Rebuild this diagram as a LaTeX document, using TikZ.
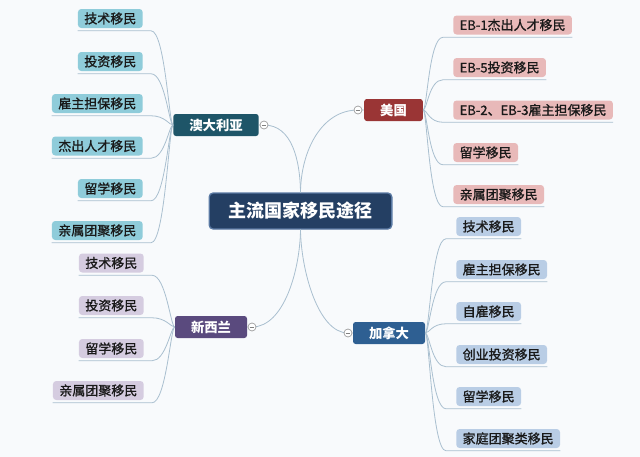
\documentclass[tikz,border=0pt]{standalone}
\usepackage{fontspec}
\setmainfont{Noto Sans CJK SC}
\newfontfamily\subfont{Noto Sans CJK SC}[FakeBold=1.2]
\usetikzlibrary{calc}

\definecolor{bgcol}{HTML}{F8FAFC}
\definecolor{linecol}{HTML}{A9BFCF}
\definecolor{maincol}{HTML}{243F63}
\definecolor{mainrim}{HTML}{5A79A3}
\definecolor{auscol}{HTML}{1E5568}
\definecolor{auslight}{HTML}{8FCCDA}
\definecolor{uscol}{HTML}{9A3535}
\definecolor{uslight}{HTML}{E8B9B9}
\definecolor{cacol}{HTML}{2E5F92}
\definecolor{calight}{HTML}{B9CDE5}
\definecolor{nzcol}{HTML}{5A4A7E}
\definecolor{nzlight}{HTML}{D5CCE0}

\begin{document}
\begin{tikzpicture}[x=0.75pt, y=-0.75pt,
    topic/.style={rounded corners=2pt, text=white, inner xsep=12pt, inner ysep=0pt,
      minimum height=16.5pt, font=\bfseries\fontsize{10}{12}\selectfont},
    sub/.style={rounded corners=2.5pt, text=black!90, inner xsep=4.8pt, inner ysep=0pt,
      minimum height=14.25pt, font=\subfont\fontsize{9.75}{11}\selectfont},
    branch/.style={draw=linecol, line width=0.6pt},
    fold/.style={circle, draw=black!40, fill=white, line width=0.5pt, minimum size=6pt, inner sep=0pt,
      path picture={\draw[black!50, line width=0.5pt]
        ([xshift=1.3pt]path picture bounding box.west) -- ([xshift=-1.3pt]path picture bounding box.east);}}]

  % Background
  \fill [bgcol] (0, 0) rectangle (640, 457);

  % Central topic
  \node [rounded corners=3pt, fill=maincol, draw=mainrim, line width=1pt, text=white,
    minimum width=137pt, minimum height=27pt, font=\bfseries\fontsize{13.5}{16}\selectfont]
    (main) at (300.5, 211) {主流国家移民途径};

  % Main topics
  \node [topic, fill=auscol] (aus) at (216, 125) {澳大利亚};
  \node [topic, fill=uscol] (us) at (393.5, 110) {美国};
  \node [topic, fill=cacol] (ca) at (389, 333) {加拿大};
  \node [topic, fill=nzcol] (nz) at (211, 327) {新西兰};

  % Connections to the central topic
  \draw [branch] (aus.east) -- (264, 125) .. controls (292, 125) and (300, 160) .. (main.north);
  \draw [branch] (us.west) -- (358, 110) .. controls (322, 110) and (301, 150) .. (main.north);
  \draw [branch] (nz.east) -- (252, 327) .. controls (284, 327) and (300, 270) .. (main.south);
  \draw [branch] (ca.west) -- (348, 333) .. controls (318, 333) and (301, 270) .. (main.south);

  \node [fold] (ausfold) at (264, 125) {};
  \node [fold] (usfold) at (358, 110) {};
  \node [fold] (nzfold) at (252, 327) {};
  \node [fold] (cafold) at (348, 333) {};

  % Australia
  \foreach \i/\y/\txt in {
    1/18.5/技术移民,
    2/61.5/投资移民,
    3/103.5/雇主担保移民,
    4/146/杰出人才移民,
    5/188.5/留学移民,
    6/230.5/亲属团聚移民
  } {
    \node [sub, fill=auslight, anchor=east] (aus\i) at (143, \y) {\txt};
    \draw [branch] ($(aus\i.south west)+(0, 2.5)$) -- ($(aus\i.south east)+(8, 2.5)$)
      .. controls +(14, 0) and +(-4, 0) .. (aus.west);
  }

  % New Zealand
  \foreach \i/\y/\txt in {
    1/263/技术移民,
    2/305.5/投资移民,
    3/348.5/留学移民,
    4/390.5/亲属团聚移民
  } {
    \node [sub, fill=nzlight, anchor=east] (nz\i) at (144, \y) {\txt};
    \draw [branch] ($(nz\i.south west)+(0, 2.5)$) -- ($(nz\i.south east)+(8, 2.5)$)
      .. controls +(14, 0) and +(-4, 0) .. (nz.west);
  }

  % USA
  \foreach \i/\y/\txt in {
    1/25/EB-1杰出人才移民,
    2/67.5/EB-5投资移民,
    3/110/EB-2、EB-3雇主担保移民,
    4/152.5/留学移民,
    5/194.5/亲属团聚移民
  } {
    \node [sub, fill=uslight, anchor=west] (us\i) at (453, \y) {\txt};
    \draw [branch] ($(us\i.south east)+(0, 2.5)$) -- ($(us\i.south west)+(-10, 2.5)$)
      .. controls +(-14, 0) and +(4, 0) .. (us.east);
  }

  % Canada
  \foreach \i/\y/\txt in {
    1/226.5/技术移民,
    2/269.5/雇主担保移民,
    3/311.5/自雇移民,
    4/354.5/创业投资移民,
    5/396.5/留学移民,
    6/438.5/家庭团聚类移民
  } {
    \node [sub, fill=calight, anchor=west] (ca\i) at (456, \y) {\txt};
    \draw [branch] ($(ca\i.south east)+(0, 2.5)$) -- ($(ca\i.south west)+(-10, 2.5)$)
      .. controls +(-14, 0) and +(4, 0) .. (ca.east);
  }

\end{tikzpicture}
\end{document}
